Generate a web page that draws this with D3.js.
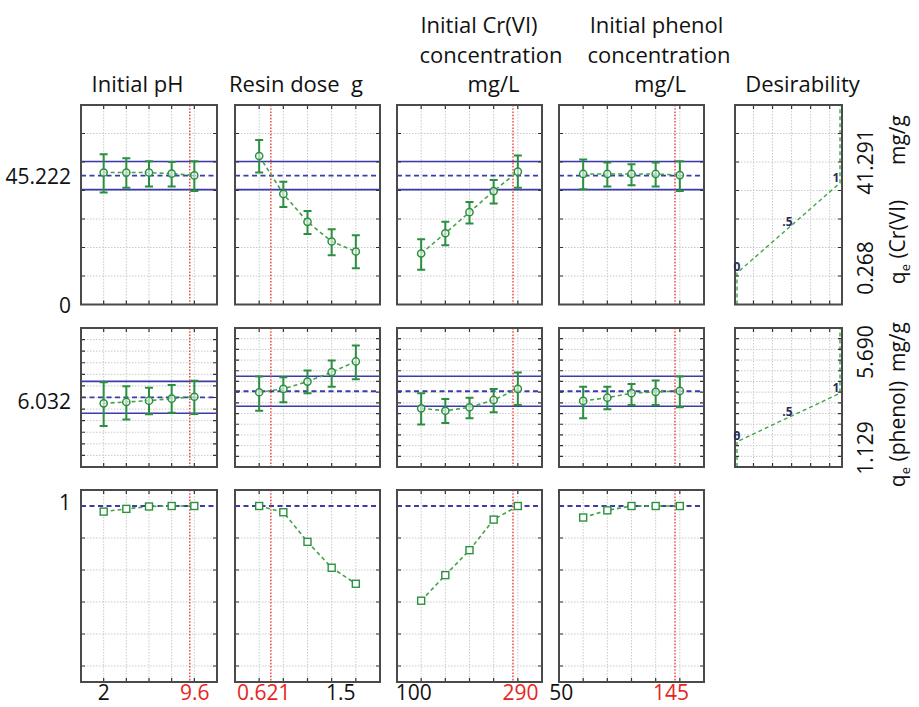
<!DOCTYPE html>
<html><head><meta charset="utf-8">
<script src="https://cdn.jsdelivr.net/npm/d3@7"></script>
<style>
body{margin:0;background:#fff;}
svg{display:block;font-family:"Open Sans",sans-serif;}
</style>
</head><body>
<svg id="c" width="919" height="707"></svg>
<script>
// ---------------- DATA ----------------
const headerLines = [
  ["Initial pH"],
  ["Resin dose\u00a0 g"],
  ["Initial Cr(VI)", "concentration", "mg/L"],
  ["Initial phenol", "concentration", "mg/L"],
  ["Desirability"]
];
const levelsPH     = [2, 4, 6, 8, 10];
const levelsDose   = [0.5, 0.75, 1.0, 1.25, 1.5];
const levelsCr     = [100, 150, 200, 250, 300];
const levelsPhenol = [50, 75, 100, 125, 150];
const levels = [levelsPH, levelsDose, levelsCr, levelsPhenol];
const currentValues = [9.6, 0.621, 290, 145];
const xDomains = [[0, 12], [0.25, 1.75], [50, 350], [25, 175]];

const xTickValues = [[2, 9.6], [0.621, 1.5], [100, 290], [50, 145]];
const xTickLabels = [["2", "9.6"], ["0.621", "1.5"], ["100", "290"], ["50", "145"]];
const xTickRed    = [[false, true], [true, false], [false, true], [false, true]];

// Row 1: qe Cr(VI) mg/g
const crDomain = [0, 70];
const crPred = 45.222;
const crCI = [40.3, 50.2];
const crMean = [
  [46.3, 46.3, 46.3, 45.9, 45.3],
  [52.1, 38.8, 29.0, 22.1, 18.6],
  [17.9, 25.0, 32.4, 39.8, 46.6],
  [45.8, 45.8, 45.8, 45.8, 45.4]
];
const crHigh = [
  [52.7, 51.3, 50.3, 50.0, 50.3],
  [57.7, 43.1, 32.8, 26.4, 24.3],
  [22.9, 29.0, 36.0, 43.7, 52.3],
  [50.9, 49.8, 49.2, 49.8, 50.3]
];
const crLow = [
  [39.3, 41.0, 41.4, 41.4, 39.8],
  [46.3, 34.2, 24.7, 17.3, 12.7],
  [12.2, 20.8, 28.4, 35.4, 41.0],
  [40.4, 41.4, 41.8, 41.4, 39.8]
];

// Row 2: qe phenol mg/g
const phDomains = [[-0.115, 12.14], [-1.01, 11.91], [-1.01, 11.91], [-1.01, 11.91]];
const phGridCount = [12, 13, 13, 13];
const phPred = 6.032;
const phCI = [4.63, 7.43];
const phMean = [
  [5.50, 5.62, 5.73, 5.91, 6.08],
  [5.94, 6.25, 6.93, 7.81, 8.80],
  [4.44, 4.22, 4.54, 5.22, 6.25],
  [5.13, 5.43, 5.85, 5.97, 6.06]
];
const phHigh = [
  [7.36, 7.01, 6.88, 7.12, 7.50],
  [7.40, 7.34, 7.96, 8.89, 10.29],
  [5.85, 5.31, 5.43, 6.25, 7.77],
  [6.46, 6.46, 6.71, 7.02, 7.40]
];
const phLow = [
  [3.49, 4.08, 4.53, 4.67, 4.55],
  [4.22, 5.00, 5.85, 6.46, 7.15],
  [2.95, 3.07, 3.51, 4.07, 4.75],
  [3.51, 4.35, 4.75, 4.75, 4.54]
];

// Row 3: desirability
const desDomain = [-0.1, 1.1];
const desGrid = [0, 0.2, 0.4, 0.6, 0.8];
const desirability = [
  [0.965, 0.982, 0.997, 1.0, 1.0],
  [1.0, 0.961, 0.776, 0.614, 0.514],
  [0.408, 0.568, 0.724, 0.915, 1.0],
  [0.928, 0.973, 1.0, 1.0, 1.0]
];

// Desirability function panels
const desFnDomains = [[-14.1, 76.8], [-1.26, 11.84]];
const desFnLimits = [[0.268, 41.291], [1.129, 5.690]];
const desFnLabels = ["0", ".5", "1"];
const desFnLabelAt = [0, 0.5, 1];
const desXGrid = [0.16, 0.345, 0.53, 0.715, 0.9];

const rightNums = [["0.268", "41.291"], ["1.129", "5.690"]];
const leftLabels = ["45.222", "0", "6.032", "1"];

// ---------------- LAYOUT ----------------
const svg = d3.select("#c");
const colBox = [[81, 217], [235, 380], [397, 542], [559, 704]];
const desBox = [735, 842];
const rowBox = [[105, 304.5], [328, 467], [490, 682]];

const C_GRID = "#c9c9c9", C_FRAME = "#4a4a4a", C_GREEN = "#2a9040", C_GLINE = "#43a447",
      C_BLUE = "#3b3bab", C_RED = "#e8302a";

const xs = levels.map((_, c) => d3.scaleLinear().domain(xDomains[c]).range(colBox[c]));
const yCr = d3.scaleLinear().domain(crDomain).range([rowBox[0][1], rowBox[0][0]]);
const yPh = phDomains.map(d => d3.scaleLinear().domain(d).range([rowBox[1][1], rowBox[1][0]]));
const yDes = d3.scaleLinear().domain(desDomain).range([rowBox[2][1], rowBox[2][0]]);
const xDesFn = d3.scaleLinear().domain([0, 1]).range([737, 840]);
const yDesFn = desFnDomains.map((d, r) => d3.scaleLinear().domain(d).range([rowBox[r][1], rowBox[r][0]]));

const gGrid = svg.append("g"), gRef = svg.append("g"), gData = svg.append("g"), gFrame = svg.append("g");

function panel(x0, x1, y0, y1, gx, gy) {
  gGrid.selectAll(null).data(gx).join("line")
    .attr("x1", d => d).attr("x2", d => d).attr("y1", y0).attr("y2", y1)
    .attr("stroke", C_GRID).attr("stroke-width", 1).attr("stroke-dasharray", "1.5,1.5");
  gGrid.selectAll(null).data(gy).join("line")
    .attr("y1", d => d).attr("y2", d => d).attr("x1", x0).attr("x2", x1)
    .attr("stroke", C_GRID).attr("stroke-width", 1).attr("stroke-dasharray", "1.5,1.5");
  const tk = 4;
  gFrame.selectAll(null).data(gx).join("path")
    .attr("d", d => `M${d},${y0}v${tk}M${d},${y1}v${-tk}`)
    .attr("stroke", "#333").attr("stroke-width", 1.2);
  gFrame.selectAll(null).data(gy).join("path")
    .attr("d", d => `M${x0},${d}h${tk}M${x1},${d}h${-tk}`)
    .attr("stroke", "#333").attr("stroke-width", 1.2);
  gFrame.append("rect").attr("x", x0).attr("y", y0).attr("width", x1 - x0).attr("height", y1 - y0)
    .attr("fill", "none").attr("stroke", C_FRAME).attr("stroke-width", 2);
}

function hline(g, x0, x1, y, dashed) {
  g.append("line").attr("x1", x0).attr("x2", x1).attr("y1", y).attr("y2", y)
    .attr("stroke", C_BLUE).attr("stroke-width", dashed ? 1.8 : 1.6)
    .attr("stroke-dasharray", dashed ? "5,3.5" : null);
}

function seriesWithBars(c, ys, mean, hi, lo) {
  const x = xs[c];
  const lv = levels[c];
  gData.selectAll(null).data(lv).join("path")
    .attr("d", (d, i) => `M${x(d)},${ys(lo[i])}V${ys(hi[i])}M${x(d) - 4},${ys(lo[i])}h8M${x(d) - 4},${ys(hi[i])}h8`)
    .attr("stroke", C_GREEN).attr("stroke-width", 2).attr("fill", "none");
  gData.append("path").datum(lv)
    .attr("d", d3.line().x(d => x(d)).y((d, i) => ys(mean[i])))
    .attr("fill", "none").attr("stroke", C_GLINE).attr("stroke-width", 1.6).attr("stroke-dasharray", "4,3");
  gData.selectAll(null).data(lv).join("circle")
    .attr("cx", d => x(d)).attr("cy", (d, i) => ys(mean[i])).attr("r", 3.6)
    .attr("fill", "#fff").attr("fill-opacity", 0.6).attr("stroke", C_GREEN).attr("stroke-width", 1.5);
}

for (let c = 0; c < 4; c++) {
  const x = xs[c];
  const [x0, x1] = colBox[c];
  const gx = levels[c].map(x);
  // Row 1
  panel(x0, x1, rowBox[0][0], rowBox[0][1], gx, d3.range(10, 70, 10).map(yCr));
  hline(gRef, x0, x1, yCr(crCI[0]), false);
  hline(gRef, x0, x1, yCr(crCI[1]), false);
  hline(gRef, x0, x1, yCr(crPred), true);
  seriesWithBars(c, yCr, crMean[c], crHigh[c], crLow[c]);
  // Row 2
  const yp = yPh[c];
  const n = phGridCount[c];
  const gy2 = d3.range(1, n).map(i => rowBox[1][0] + i * (rowBox[1][1] - rowBox[1][0]) / n);
  panel(x0, x1, rowBox[1][0], rowBox[1][1], gx, gy2);
  hline(gRef, x0, x1, yp(phCI[0]), false);
  hline(gRef, x0, x1, yp(phCI[1]), false);
  hline(gRef, x0, x1, yp(phPred), true);
  seriesWithBars(c, yp, phMean[c], phHigh[c], phLow[c]);
  // Row 3
  panel(x0, x1, rowBox[2][0], rowBox[2][1], gx, desGrid.map(yDes));
  hline(gRef, x0, x1, yDes(1), true);
  gData.append("path").datum(levels[c])
    .attr("d", d3.line().x(d => x(d)).y((d, i) => yDes(desirability[c][i])))
    .attr("fill", "none").attr("stroke", C_GLINE).attr("stroke-width", 1.6).attr("stroke-dasharray", "4,3");
  gData.selectAll(null).data(levels[c]).join("rect")
    .attr("x", d => x(d) - 3.5).attr("y", (d, i) => yDes(desirability[c][i]) - 3.5)
    .attr("width", 7).attr("height", 7)
    .attr("fill", "#fff").attr("stroke", C_GREEN).attr("stroke-width", 1.4);
  // Red current-value lines
  rowBox.forEach(([y0, y1]) => {
    gRef.append("line").attr("x1", x(currentValues[c])).attr("x2", x(currentValues[c]))
      .attr("y1", y0).attr("y2", y1)
      .attr("stroke", C_RED).attr("stroke-width", 1.3).attr("stroke-dasharray", "1.6,1.6");
  });
  // bottom labels
  const offs = [[0, 5], [-7, -15], [-7.5, 7.5], [-22, -4]][c];
  xTickValues[c].forEach((v, k) => {
    svg.append("text").attr("x", x(v) + offs[k]).attr("y", 700)
      .attr("text-anchor", "middle").attr("font-size", 21)
      .attr("fill", xTickRed[c][k] ? "#e8241c" : "#111").text(xTickLabels[c][k]);
  });
}

// Desirability function panels
[0, 1].forEach(r => {
  const [y0, y1] = rowBox[r];
  const ys = yDesFn[r];
  let gy;
  if (r === 0) gy = d3.range(10, 70, 10).map(yCr);
  else gy = d3.range(1, 13).map(i => y0 + i * (y1 - y0) / 13);
  panel(desBox[0], desBox[1], y0, y1, desXGrid.map(xDesFn), gy);
  const [lo, hi] = desFnLimits[r];
  const dom = desFnDomains[r];
  const pts = [[0, dom[0]], [0, lo], [1, hi], [1, dom[1]]];
  gData.append("path").datum(pts)
    .attr("d", d3.line().x(d => xDesFn(d[0])).y(d => ys(d[1])))
    .attr("fill", "none").attr("stroke", C_GLINE).attr("stroke-width", 1.4).attr("stroke-dasharray", "4,3");
  const lblOff = [[0, -6], [-1, -6], [-4, -5]];
  desFnLabelAt.forEach((d, k) => {
    svg.append("text").attr("x", xDesFn(d) + lblOff[k][0]).attr("y", ys(lo + d * (hi - lo)) + lblOff[k][1])
      .attr("dy", "0.35em").attr("text-anchor", "middle").attr("font-size", 12).attr("font-weight", "bold")
      .attr("fill", "#2b2b55").text(desFnLabels[k]);
  });
  // right numeric labels
  [lo, hi].forEach((v, k) => {
    const yy = r === 0 ? [268, 162][k] : [448, 352][k];
    svg.append("text").attr("transform", `translate(866,${yy}) rotate(-90)`)
      .attr("dy", "0.35em").attr("text-anchor", "middle").attr("font-size", 21).attr("fill", "#111")
      .text(rightNums[r][k]);
  });
});

// right axis titles
function qeTitle(cx, cy, rest) {
  const t = svg.append("text").attr("transform", `translate(${cx},${cy}) rotate(-90)`)
    .attr("dy", "0.3em").attr("text-anchor", "middle").attr("font-size", 21).attr("fill", "#111");
  t.append("tspan").text("q");
  t.append("tspan").attr("font-size", 13).attr("dy", "0.35em").text("e");
  t.append("tspan").attr("dy", "-0.25em").text(rest);
}
qeTitle(899, 242, " (Cr(VI)");
qeTitle(899, 434, " (phenol)");
[[899, 140], [899, 347]].forEach(([cx, cy]) => {
  svg.append("text").attr("transform", `translate(${cx},${cy}) rotate(-90)`)
    .attr("dy", "0.3em").attr("text-anchor", "middle").attr("font-size", 21).attr("fill", "#111").text("mg/g");
});

// left labels
const leftY = [177, 305.5, 402, 503];
leftLabels.forEach((l, i) => {
  svg.append("text").attr("x", 71).attr("y", leftY[i]).attr("dy", "0.35em")
    .attr("text-anchor", "end").attr("font-size", 21).attr("fill", "#111").text(l);
});

// headers
const headerPos = [
  [[137.5, 92]],
  [[296, 92]],
  [[479, 33], [491, 63], [493.5, 92]],
  [[656.5, 33], [659, 63], [660, 92]],
  [[802.5, 92]]
];
headerLines.forEach((lines, i) => {
  lines.forEach((s, k) => {
    svg.append("text").attr("x", headerPos[i][k][0]).attr("y", headerPos[i][k][1])
      .attr("text-anchor", "middle").attr("font-size", 22).attr("fill", "#111").text(s);
  });
});
</script>
</body></html>
